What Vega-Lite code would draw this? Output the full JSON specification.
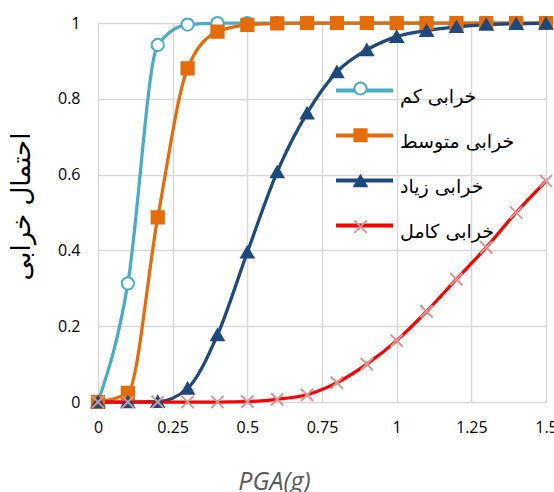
{
  "$schema": "https://vega.github.io/schema/vega-lite/v6.json",
  "width": 448,
  "height": 379,
  "autosize": {"type": "none"},
  "padding": {"left": 98, "top": 23, "right": 8, "bottom": 90},
  "background": "white",
  "config": {"view": {"stroke": null}},
  "data": {"values": [
    {"pga": 0.0, "series": "خرابی کم", "p": 0},
    {"pga": 0.1, "series": "خرابی کم", "p": 0.313},
    {"pga": 0.2, "series": "خرابی کم", "p": 0.942},
    {"pga": 0.3, "series": "خرابی کم", "p": 0.996},
    {"pga": 0.4, "series": "خرابی کم", "p": 1},
    {"pga": 0.5, "series": "خرابی کم", "p": 1},
    {"pga": 0.6, "series": "خرابی کم", "p": 1},
    {"pga": 0.7, "series": "خرابی کم", "p": 1},
    {"pga": 0.8, "series": "خرابی کم", "p": 1},
    {"pga": 0.9, "series": "خرابی کم", "p": 1},
    {"pga": 1.0, "series": "خرابی کم", "p": 1},
    {"pga": 1.1, "series": "خرابی کم", "p": 1},
    {"pga": 1.2, "series": "خرابی کم", "p": 1},
    {"pga": 1.3, "series": "خرابی کم", "p": 1},
    {"pga": 1.4, "series": "خرابی کم", "p": 1},
    {"pga": 1.5, "series": "خرابی کم", "p": 1},
    {"pga": 0.0, "series": "خرابی متوسط", "p": 0},
    {"pga": 0.1, "series": "خرابی متوسط", "p": 0.024},
    {"pga": 0.2, "series": "خرابی متوسط", "p": 0.487},
    {"pga": 0.3, "series": "خرابی متوسط", "p": 0.88},
    {"pga": 0.4, "series": "خرابی متوسط", "p": 0.977},
    {"pga": 0.5, "series": "خرابی متوسط", "p": 0.995},
    {"pga": 0.6, "series": "خرابی متوسط", "p": 0.999},
    {"pga": 0.7, "series": "خرابی متوسط", "p": 1},
    {"pga": 0.8, "series": "خرابی متوسط", "p": 1},
    {"pga": 0.9, "series": "خرابی متوسط", "p": 1},
    {"pga": 1.0, "series": "خرابی متوسط", "p": 1},
    {"pga": 1.1, "series": "خرابی متوسط", "p": 1},
    {"pga": 1.2, "series": "خرابی متوسط", "p": 1},
    {"pga": 1.3, "series": "خرابی متوسط", "p": 1},
    {"pga": 1.4, "series": "خرابی متوسط", "p": 1},
    {"pga": 1.5, "series": "خرابی متوسط", "p": 1},
    {"pga": 0.0, "series": "خرابی زیاد", "p": 0},
    {"pga": 0.1, "series": "خرابی زیاد", "p": 0},
    {"pga": 0.2, "series": "خرابی زیاد", "p": 0.001},
    {"pga": 0.3, "series": "خرابی زیاد", "p": 0.036},
    {"pga": 0.4, "series": "خرابی زیاد", "p": 0.177},
    {"pga": 0.5, "series": "خرابی زیاد", "p": 0.395},
    {"pga": 0.6, "series": "خرابی زیاد", "p": 0.607},
    {"pga": 0.7, "series": "خرابی زیاد", "p": 0.762},
    {"pga": 0.8, "series": "خرابی زیاد", "p": 0.871},
    {"pga": 0.9, "series": "خرابی زیاد", "p": 0.929},
    {"pga": 1.0, "series": "خرابی زیاد", "p": 0.964},
    {"pga": 1.1, "series": "خرابی زیاد", "p": 0.98},
    {"pga": 1.2, "series": "خرابی زیاد", "p": 0.99},
    {"pga": 1.3, "series": "خرابی زیاد", "p": 0.996},
    {"pga": 1.4, "series": "خرابی زیاد", "p": 0.998},
    {"pga": 1.5, "series": "خرابی زیاد", "p": 0.999},
    {"pga": 0.0, "series": "خرابی کامل", "p": 0},
    {"pga": 0.1, "series": "خرابی کامل", "p": 0},
    {"pga": 0.2, "series": "خرابی کامل", "p": 0},
    {"pga": 0.3, "series": "خرابی کامل", "p": 0},
    {"pga": 0.4, "series": "خرابی کامل", "p": 0},
    {"pga": 0.5, "series": "خرابی کامل", "p": 0.001},
    {"pga": 0.6, "series": "خرابی کامل", "p": 0.007},
    {"pga": 0.7, "series": "خرابی کامل", "p": 0.019},
    {"pga": 0.8, "series": "خرابی کامل", "p": 0.051},
    {"pga": 0.9, "series": "خرابی کامل", "p": 0.1},
    {"pga": 1.0, "series": "خرابی کامل", "p": 0.162},
    {"pga": 1.1, "series": "خرابی کامل", "p": 0.239},
    {"pga": 1.2, "series": "خرابی کامل", "p": 0.324},
    {"pga": 1.3, "series": "خرابی کامل", "p": 0.408},
    {"pga": 1.4, "series": "خرابی کامل", "p": 0.5},
    {"pga": 1.5, "series": "خرابی کامل", "p": 0.583}
  ]},
  "encoding": {
    "x": {
      "field": "pga", "type": "quantitative",
      "scale": {"domain": [0, 1.5], "nice": false, "zero": false},
      "axis": {
        "title": "PGA(g)",
        "values": [0, 0.25, 0.5, 0.75, 1, 1.25, 1.5],
        "format": ".3~g",
        "grid": true, "gridColor": "#d9d9d9", "gridWidth": 1.5,
        "domain": false, "ticks": false,
        "labelFont": "Open Sans", "labelFontSize": 16, "labelColor": "#000000",
        "labelPadding": 17, "labelFlush": false, "labelOverlap": false,
        "titleFont": "Open Sans", "titleFontSize": 25, "titleFontStyle": "italic",
        "titleFontWeight": "normal", "titleColor": "#595959",
        "titleX": 176, "titleY": 87, "titleBaseline": "alphabetic", "titleAnchor": null
      }
    },
    "y": {
      "field": "p", "type": "quantitative",
      "scale": {"domain": [0, 1], "nice": false},
      "axis": {
        "title": "احتمال خرابی",
        "values": [0, 0.2, 0.4, 0.6, 0.8, 1],
        "format": ".2~g",
        "grid": true, "gridColor": "#d9d9d9", "gridWidth": 1.5,
        "domain": false, "ticks": false,
        "labelFont": "Open Sans", "labelFontSize": 16, "labelColor": "#000000",
        "labelPadding": 18, "labelFlush": false, "labelOverlap": false,
        "titleFont": "DejaVu Sans", "titleFontSize": 26, "titleFontWeight": "normal",
        "titleColor": "#000000",
        "titleX": -77, "titleY": 183, "titleAngle": -90, "titleBaseline": "middle", "titleAlign": "center"
      }
    }
  },
  "layer": [
    {
      "mark": {"type": "line", "interpolate": "monotone", "strokeWidth": 3.25},
      "encoding": {
        "color": {
          "field": "series", "type": "nominal", "sort": null,
          "scale": {"range": ["#4BACC6", "#E46C0A", "#1F497D", "#FF0000"]},
          "legend": {
            "title": null, "orient": "none", "legendX": 257, "legendY": 58,
            "padding": 0, "rowPadding": 19,
            "symbolType": "M-4,0H4", "symbolSize": 203, "symbolStrokeWidth": 4,
            "labelFont": "DejaVu Sans", "labelFontSize": 19, "labelColor": "#000000",
            "labelOffset": 26, "labelLimit": 300,
            "encode": {"labels": {"update": {"dy": {"value": 6}}}}
          }
        }
      }
    },
    {
      "mark": {"type": "point", "filled": true, "opacity": 1, "size": 150, "strokeWidth": 2},
      "encoding": {
        "shape": {
          "field": "series", "type": "nominal",
          "scale": {
            "domain": ["خرابی کم", "خرابی متوسط", "خرابی زیاد", "خرابی کامل"],
            "range": ["circle", "square", "triangle-up", "M-1,-1L1,1M-1,1L1,-1"]
          },
          "legend": {
            "title": null, "orient": "none", "legendX": 255, "legendY": 58,
            "padding": 0, "rowPadding": 25.75,
            "symbolSize": 150, "symbolStrokeWidth": 2,
            "labelExpr": "''", "labelFontSize": 1
          }
        },
        "fill": {
          "field": "series", "type": "nominal",
          "scale": {
            "domain": ["خرابی کم", "خرابی متوسط", "خرابی زیاد", "خرابی کامل"],
            "range": ["#ffffff", "#E46C0A", "#1F497D", "transparent"]
          },
          "legend": {
            "title": null, "orient": "none", "legendX": 255, "legendY": 58,
            "padding": 0, "rowPadding": 25.75,
            "symbolSize": 150, "symbolStrokeWidth": 2,
            "labelExpr": "''", "labelFontSize": 1
          }
        },
        "stroke": {
          "field": "series", "type": "nominal",
          "scale": {
            "domain": ["خرابی کم", "خرابی متوسط", "خرابی زیاد", "خرابی کامل"],
            "range": ["#4BACC6", "#E46C0A", "#1F497D", "#D99694"]
          },
          "legend": {
            "title": null, "orient": "none", "legendX": 255, "legendY": 58,
            "padding": 0, "rowPadding": 25.75,
            "symbolSize": 150, "symbolStrokeWidth": 2,
            "labelExpr": "''", "labelFontSize": 1
          }
        }
      }
    }
  ]
}
